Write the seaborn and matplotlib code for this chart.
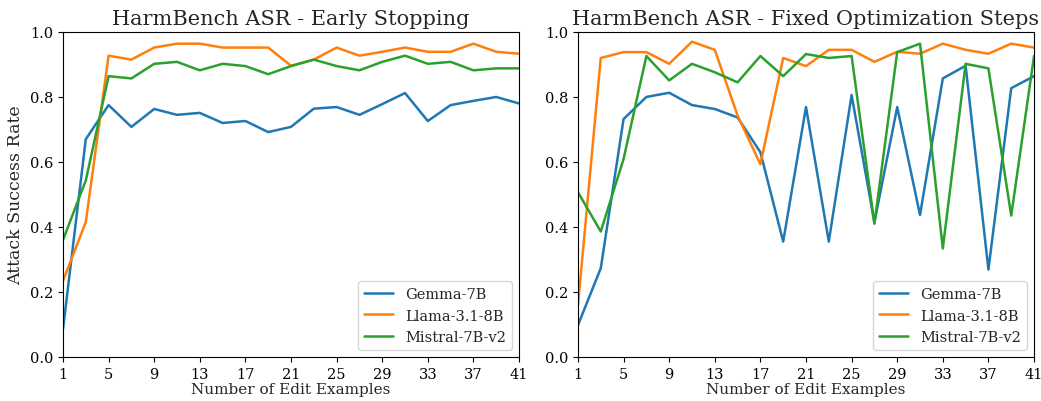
import numpy as np
import pandas as pd
import matplotlib
matplotlib.use("Agg")
import matplotlib.pyplot as plt
import seaborn as sns

steps = list(range(1, 42, 2))
models = ['Gemma-7B', 'Llama-3.1-8B', 'Mistral-7B-v2']

# Early stopping
es_gemma = [0.085, 0.67, 0.775, 0.708, 0.763, 0.745, 0.751, 0.72, 0.726, 0.692, 0.708,
            0.764, 0.769, 0.745, 0.778, 0.812, 0.726, 0.775, 0.788, 0.80, 0.78]
es_llama = [0.234, 0.415, 0.927, 0.915, 0.952, 0.964, 0.964, 0.952, 0.952, 0.952, 0.896,
            0.915, 0.952, 0.927, 0.939, 0.952, 0.939, 0.939, 0.964, 0.939, 0.933]
es_mistral = [0.36, 0.543, 0.864, 0.857, 0.902, 0.908, 0.882, 0.902, 0.895, 0.870, 0.895,
              0.915, 0.895, 0.882, 0.908, 0.927, 0.902, 0.908, 0.882, 0.888, 0.888]

# Fixed optimization steps
fx_gemma = [0.098, 0.273, 0.732, 0.80, 0.813, 0.775, 0.763, 0.737, 0.63, 0.355, 0.769,
            0.355, 0.806, 0.414, 0.769, 0.437, 0.857, 0.896, 0.269, 0.827, 0.864]
fx_llama = [0.16, 0.92, 0.938, 0.938, 0.902, 0.970, 0.945, 0.743, 0.593, 0.92, 0.895,
            0.945, 0.945, 0.908, 0.939, 0.933, 0.964, 0.945, 0.933, 0.964, 0.952]
fx_mistral = [0.507, 0.386, 0.609, 0.926, 0.851, 0.902, 0.876, 0.845, 0.926, 0.864, 0.932,
              0.92, 0.926, 0.41, 0.938, 0.964, 0.334, 0.902, 0.888, 0.435, 0.926]


def long_df(series):
    rows = []
    for name, vals in zip(models, series):
        for s, v in zip(steps, vals):
            rows.append({'steps': s, 'asr': v, 'model': name})
    return pd.DataFrame(rows)


sns.set_style("ticks")
plt.rcParams['font.family'] = ['DejaVu Serif']
plt.rcParams['axes.edgecolor'] = 'black'
plt.rcParams['xtick.color'] = 'black'
plt.rcParams['ytick.color'] = 'black'

fig = plt.figure(figsize=(10.41, 4.02), dpi=100)
ax1 = fig.add_axes([0.0605, 0.1095, 0.4381, 0.8085])
ax2 = fig.add_axes([0.5552, 0.1095, 0.4381, 0.8085])

panels = [
    (ax1, [es_gemma, es_llama, es_mistral], 'HarmBench ASR - Early Stopping'),
    (ax2, [fx_gemma, fx_llama, fx_mistral], 'HarmBench ASR - Fixed Optimization Steps'),
]

for ax, series, title in panels:
    sns.lineplot(data=long_df(series), x='steps', y='asr', hue='model',
                 palette='tab10', linewidth=1.8, ax=ax)
    ax.set_xlim(1, 41)
    ax.set_ylim(0, 1)
    ax.set_xticks(range(1, 42, 4))
    ax.set_yticks(np.arange(0, 1.01, 0.2))
    ax.tick_params(labelsize=10.5)
    ax.set_title(title, fontsize=15)
    ax.set_xlabel('Number of Edit Examples', fontsize=11, labelpad=1)
    ax.set_ylabel('')
    ax.legend(loc='lower right', fontsize=10.5, title=None, frameon=True,
              fancybox=True, framealpha=0.8, edgecolor='#cccccc')

ax1.set_ylabel('Attack Success Rate', fontsize=12.5)

fig.savefig('out.png', dpi=100)
